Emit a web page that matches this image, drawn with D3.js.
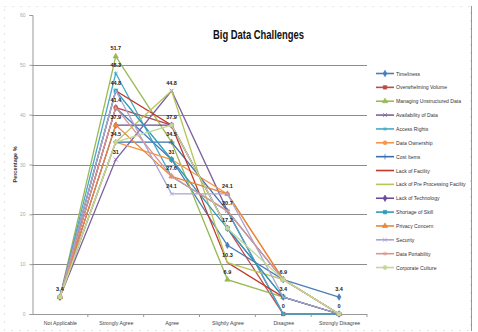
<!DOCTYPE html>
<html>
<head>
<meta charset="utf-8">
<script src="https://cdn.jsdelivr.net/npm/d3@7"></script>
<style>
  body { margin: 0; background: #fff; }
  svg { display: block; }
</style>
</head>
<body>
<div id="chart"></div>
<script>
const categories = ['Not Applicable', 'Strongly Agree', 'Agree', 'Slightly Agree', 'Disagree', 'Strongly Disagree'];
const seriesNames = [
  'Timeliness', 'Overwhelming Volume', 'Managing Unstructured Data', 'Availability of Data',
  'Access Rights', 'Data Ownership', 'Cost Items', 'Lack of Facility',
  'Lack of Pre Processing Facility', 'Lack of Technology', 'Shortage of Skill',
  'Privacy Concern', 'Security', 'Data Portability', 'Corporate Culture'
];
const timeliness     = [3.4, 41.4, 31.0, 13.8, 6.9, 3.4];
const overwhelming   = [3.4, 41.4, 37.9, 17.2, 0, 0];
const unstructured   = [3.4, 51.7, 34.5, 6.9, 3.4, 0];
const availability   = [3.4, 31.0, 44.8, 20.7, 0, 0];
const accessRights   = [3.4, 48.3, 27.6, 20.7, 0, 0];
const dataOwnership  = [3.4, 34.5, 31.0, 24.1, 6.9, 0];
const costItems      = [3.4, 34.5, 34.5, 20.7, 6.9, 0];
const lackFacility   = [3.4, 44.8, 37.9, 10.3, 3.4, 0];
const lackPreProc    = [3.4, 34.5, 44.8, 10.3, 6.9, 0];
const lackTechnology = [3.4, 37.9, 37.9, 17.2, 3.4, 0];
const shortageSkill  = [3.4, 44.8, 31.0, 17.2, 3.4, 0];
const privacy        = [3.4, 37.9, 27.6, 24.1, 6.9, 0];
const security       = [3.4, 44.8, 24.1, 24.1, 3.4, 0];
const portability    = [3.4, 41.4, 27.6, 20.7, 6.9, 0];
const culture        = [3.4, 34.5, 37.9, 17.2, 6.9, 0];
const yTicks = [0, 10, 20, 30, 40, 50, 60];
// data labels shown on the chart: [category index, value]
const pointLabels = [
  [0, 3.4],
  [1, 51.7], [1, 48.3], [1, 44.8], [1, 41.4], [1, 37.9], [1, 34.5], [1, 31],
  [2, 44.8], [2, 37.9], [2, 34.5], [2, 31], [2, 27.6], [2, 24.1],
  [3, 24.1], [3, 20.7], [3, 17.2], [3, 10.3], [3, 6.9],
  [4, 6.9], [4, 3.4], [4, 0],
  [5, 3.4], [5, 0]
];

const values = [timeliness, overwhelming, unstructured, availability, accessRights, dataOwnership,
  costItems, lackFacility, lackPreProc, lackTechnology, shortageSkill, privacy, security, portability, culture];
const colors = ['#4a7ebb', '#be4b48', '#98b954', '#7d60a0', '#46aac4', '#f79646',
  '#3b6fb0', '#c0392b', '#b8c45a', '#6a4c9c', '#2f9db8', '#e8873a', '#a9a4d4', '#d99694', '#c4d79b'];
const symbols = [d3.symbolDiamond, d3.symbolSquare, d3.symbolTriangle, d3.symbolTimes, d3.symbolAsterisk,
  d3.symbolCircle, d3.symbolPlus, null, null, d3.symbolDiamond, d3.symbolSquare, d3.symbolTriangle,
  d3.symbolTimes, d3.symbolAsterisk, d3.symbolCircle];

const W = 478, H = 332;
const plot = { left: 32, right: 367, top: 15, bottom: 314 };
const font = 'Liberation Sans, Arial, sans-serif';

const svg = d3.select('#chart').append('svg')
  .attr('width', W).attr('height', H);

// chart area border
svg.append('rect')
  .attr('x', 4.5).attr('y', 6.5).attr('width', 466).attr('height', 324)
  .attr('fill', 'none').attr('stroke', '#c8c8c8').attr('stroke-dasharray', '1,7');
svg.append('line')
  .attr('x1', 471.5).attr('x2', 471.5).attr('y1', 6).attr('y2', 331)
  .attr('stroke', '#999');

const x = d3.scalePoint()
  .domain(categories)
  .range([plot.left, plot.right])
  .padding(0.5);

const y = d3.scaleLinear()
  .domain([0, 60])
  .range([plot.bottom, plot.top]);

// gridlines
svg.append('g')
  .selectAll('line')
  .data(yTicks.filter(t => t > 0 && t < 60))
  .enter().append('line')
  .attr('x1', plot.left).attr('x2', plot.right)
  .attr('y1', d => Math.round(y(d)) + 0.5).attr('y2', d => Math.round(y(d)) + 0.5)
  .attr('stroke', '#8c8c8c').attr('stroke-width', 1);

// y axis
const yAxis = svg.append('g')
  .attr('transform', 'translate(' + (plot.left + 0.5) + ',0)')
  .call(d3.axisLeft(y).tickValues(yTicks).tickSize(3).tickPadding(4));
yAxis.select('.domain').attr('stroke', '#999');
yAxis.selectAll('.tick line').attr('stroke', '#999');
yAxis.selectAll('text')
  .attr('font-family', font)
  .attr('font-size', 5).attr('fill', '#aaa');

// x axis
const xAxis = svg.append('g')
  .attr('transform', 'translate(0,' + (plot.bottom + 0.5) + ')')
  .call(d3.axisBottom(x).tickSize(0).tickPadding(7));
xAxis.select('.domain').attr('stroke', '#999').attr('d', 'M' + plot.left + ',0H' + plot.right);
xAxis.selectAll('text')
  .attr('font-family', font)
  .attr('font-size', 5.2).attr('fill', '#444');
// tick marks between categories
const step = x.step();
svg.append('g')
  .selectAll('line')
  .data(categories)
  .enter().append('line')
  .attr('x1', d => x(d) + step / 2).attr('x2', d => x(d) + step / 2)
  .attr('y1', plot.bottom).attr('y2', plot.bottom + 3)
  .attr('stroke', '#999');

// y axis title
svg.append('text')
  .attr('transform', 'translate(17,' + ((plot.top + plot.bottom) / 2) + ') rotate(-90)')
  .attr('text-anchor', 'middle')
  .attr('font-family', font)
  .attr('font-size', 5.5).attr('font-weight', 'bold').attr('fill', '#333')
  .text('Percentage %');

// title
svg.append('text')
  .attr('x', 213).attr('y', 39)
  .attr('font-family', font)
  .attr('font-size', 12).attr('font-weight', 'bold').attr('fill', '#111')
  .attr('textLength', 91).attr('lengthAdjust', 'spacingAndGlyphs')
  .text('Big Data Challenges');

// lines
const line = d3.line()
  .x((d, i) => x(categories[i]))
  .y(d => y(d));

const series = svg.append('g')
  .selectAll('g')
  .data(values)
  .enter().append('g');

series.append('path')
  .attr('fill', 'none')
  .attr('stroke', (d, i) => colors[i])
  .attr('stroke-width', 1.3)
  .attr('d', line);

series.each(function (d, i) {
  if (!symbols[i]) return;
  d3.select(this).selectAll('path.m')
    .data(d)
    .enter().append('path')
    .attr('class', 'm')
    .attr('transform', (v, j) => 'translate(' + x(categories[j]) + ',' + y(v) + ')')
    .attr('d', d3.symbol().type(symbols[i]).size(12))
    .attr('fill', colors[i])
    .attr('stroke', colors[i])
    .attr('stroke-width', 0.7);
});

// data labels
svg.append('g')
  .selectAll('text')
  .data(pointLabels)
  .enter().append('text')
  .attr('x', d => x(categories[d[0]]))
  .attr('y', d => y(d[1]) - 6)
  .attr('text-anchor', 'middle')
  .attr('font-family', font)
  .attr('font-size', 5.5).attr('font-weight', 'bold').attr('fill', '#222')
  .text(d => d[1]);

// legend
const legend = svg.append('g')
  .selectAll('g')
  .data(seriesNames)
  .enter().append('g')
  .attr('transform', (d, i) => 'translate(376,' + (73.5 + i * 13.86) + ')');

legend.append('line')
  .attr('x1', 0).attr('x2', 18)
  .attr('stroke', (d, i) => colors[i]).attr('stroke-width', 1.6);
legend.each(function (d, i) {
  if (!symbols[i]) return;
  d3.select(this).append('path')
    .attr('transform', 'translate(9,0)')
    .attr('d', d3.symbol().type(symbols[i]).size(12)())
    .attr('fill', colors[i])
    .attr('stroke', colors[i]).attr('stroke-width', 0.7);
});
legend.append('text')
  .attr('x', 20).attr('y', 2)
  .attr('font-family', font)
  .attr('font-size', 5.1).attr('fill', '#333')
  .text(d => d);
</script>
</body>
</html>
